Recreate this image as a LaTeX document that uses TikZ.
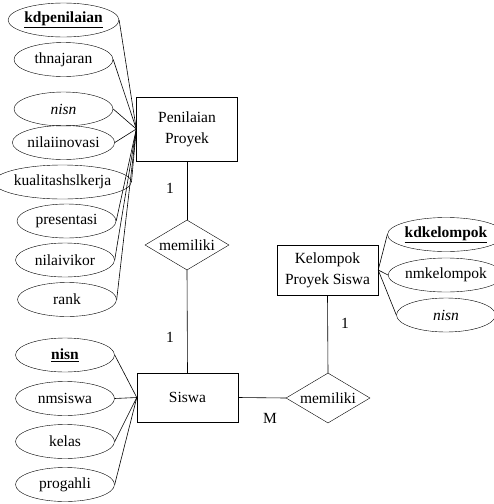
\documentclass[tikz,border=0pt]{standalone}
\usepackage{fontspec}
\setmainfont{Liberation Serif}
\usetikzlibrary{shapes.geometric}
\begin{document}
\begin{tikzpicture}[x=1pt, y=-1pt,
    font=\fontsize{15.5}{21}\selectfont,
    ent/.style={draw, rectangle, minimum width=101pt, align=center, inner sep=0pt},
    attr/.style={draw, ellipse, minimum width=99pt, minimum height=34pt, inner sep=0pt},
    rel/.style={draw, diamond, aspect=1.7, minimum width=84pt, minimum height=50pt, inner sep=0pt},
    link/.style={line width=0.6pt}]

  \useasboundingbox (0,0) rectangle (494,504);

  % entities and relations
  \node[ent, minimum height=64pt] (pp) at (187,129)   {Penilaian\\Proyek};
  \node[ent, minimum height=49pt] (sw) at (187.5,397.5) {Siswa};
  \node[ent, minimum height=50pt] (kp) at (327.5,270) {Kelompok\\Proyek Siswa};
  \node[rel] (r1) at (187,245) {memiliki};
  \node[rel] (r2) at (328,398) {memiliki};

  % attributes of Penilaian Proyek
  \node[attr] (kdpenilaian) at (63.5,20)  {\underline{\textbf{kdpenilaian}}};
  \node[attr] (thnajaran)   at (63.5,59.5) {thnajaran};
  \node[attr] (nisnpp)      at (63.5,109) {\textit{nisn}};
  \node[attr] (nilaiinovasi) at (63.5,142.5) {nilaiinovasi};
  \node[attr] (kualitas)    at (62.5,182) {kualitashslkerja};
  \node[attr] (presentasi)  at (66.5,221) {presentasi};
  \node[attr] (nilaivikor)  at (65,260)   {nilaivikor};
  \node[attr] (rank)        at (67,299.5) {rank};

  % attributes of Siswa
  \node[attr] (nisn)     at (65,355)   {\underline{\textbf{nisn}}};
  \node[attr] (nmsiswa)  at (65,398.5) {nmsiswa};
  \node[attr] (kelas)    at (65,441.5) {kelas};
  \node[attr] (progahli) at (65,484.5) {progahli};

  % attributes of Kelompok Proyek Siswa
  \node[attr] (kdkelompok) at (446,234.5) {\underline{\textbf{kdkelompok}}};
  \node[attr] (nmkelompok) at (446,275)   {nmkelompok};
  \node[attr] (nisnkp)     at (446,315)   {\textit{nisn}};

  % cardinalities
  \node (c1) at (170,188) {1};
  \node (c2) at (170,337) {1};
  \node (c3) at (345,323) {1};
  \node (c4) at (270,418) {M};

  \draw[link] (pp.west) -- (kdpenilaian.east);
  \draw[link] (pp.west) -- (thnajaran.east);
  \draw[link] (pp.west) -- (nisnpp.east);
  \draw[link] (pp.west) -- (nilaiinovasi.east);
  \draw[link] (pp.west) -- (kualitas.east);
  \draw[link] (pp.west) -- (presentasi.east);
  \draw[link] (pp.west) -- (nilaivikor.east);
  \draw[link] (pp.west) -- (rank.east);

  \draw[link] (sw.west) -- (nisn.east);
  \draw[link] (sw.west) -- (nmsiswa.east);
  \draw[link] (sw.west) -- (kelas.east);
  \draw[link] (sw.west) -- (progahli.east);

  \draw[link] (kp.east) -- (kdkelompok.west);
  \draw[link] (kp.east) -- (nmkelompok.west);
  \draw[link] (kp.east) -- (nisnkp.west);

  \draw[link] (pp.south) -- (r1.north);
  \draw[link] (r1.south) -- (sw.north);
  \draw[link] (sw.east) -- (r2.west);
  \draw[link] (kp.south) -- (r2.north);
\end{tikzpicture}
\end{document}
